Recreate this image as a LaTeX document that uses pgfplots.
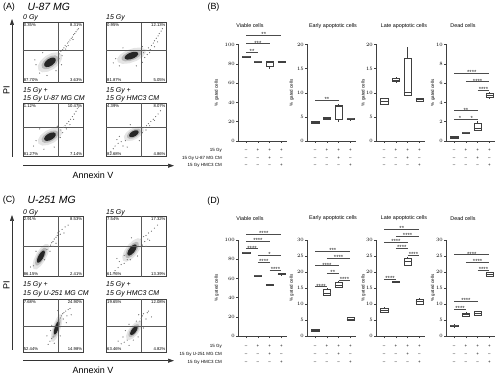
\documentclass[border=0pt]{standalone}
\usepackage{fontspec}
\setmainfont{Liberation Sans}
\usepackage{pgfplots}
\usepackage{pgfplotstable}
\pgfplotsset{compat=1.18}
\usepgfplotslibrary{statistics}
\usetikzlibrary{arrows.meta}

% unit ellipse shapes (outline of the dense cell cloud), 35, 45, 55 degrees
\pgfplotstableread{
x y
0.819 0.574
0.551 0.722
0.137 0.677
-0.316 0.450
-0.683 0.103
-0.867 -0.272
-0.819 -0.574
-0.551 -0.722
-0.137 -0.677
0.316 -0.450
0.683 -0.103
0.867 0.272
0.819 0.574
}\ellA
\pgfplotstableread{
x y
0.707 0.707
0.453 0.771
0.078 0.630
-0.318 0.318
-0.630 -0.078
-0.771 -0.453
-0.707 -0.707
-0.453 -0.771
-0.078 -0.630
0.318 -0.318
0.630 0.078
0.771 0.453
0.707 0.707
}\ellB
\pgfplotstableread{
x y
0.574 0.819
0.333 0.824
0.004 0.609
-0.328 0.230
-0.570 -0.211
-0.661 -0.594
-0.574 -0.819
-0.333 -0.824
-0.004 -0.609
0.328 -0.230
0.570 0.211
0.661 0.594
0.574 0.819
}\ellC

\newcommand{\blob}[6]{\addplot[draw=none, fill=#6, forget plot] table[x expr={#2+#4*\thisrow{x}}, y expr={#3+#5*\thisrow{y}}] {#1};}
\newcommand{\cloud}[5]{%
 \blob{#1}{#2}{#3}{2.1*#4}{2.1*#5}{gray!20}
 \blob{#1}{#2}{#3}{1.45*#4}{1.45*#5}{gray!55}
 \blob{#1}{#2}{#3}{#4}{#5}{black!85}}
\newcommand{\dotsc}[1]{\addplot[only marks, mark=*, mark size=0.32bp, black!55, forget plot] coordinates {#1};}
\newcommand{\gate}[2]{\addplot[black!65, line width=0.4bp, forget plot] coordinates {(#1,0) (#1,1)};
 \addplot[black!65, line width=0.4bp, forget plot] coordinates {(0,#2) (1,#2)};}
\newcommand{\pctfont}{\fontsize{4.2}{4.5}\selectfont}
\newcommand{\qlab}[4]{%
 \node[anchor=north west, inner sep=1bp, font=\pctfont] at (rel axis cs:0,1) {#1};
 \node[anchor=north east, inner sep=1bp, font=\pctfont] at (rel axis cs:1,1) {#2};
 \node[anchor=south west, inner sep=1bp, font=\pctfont] at (rel axis cs:0,0) {#3};
 \node[anchor=south east, inner sep=1bp, font=\pctfont] at (rel axis cs:1,0) {#4};}

\newcommand{\bx}[6]{\addplot[black!75, line width=0.35bp, fill=white, forget plot, boxplot/draw direction=y, boxplot prepared={draw position=#1, lower whisker=#2, lower quartile=#3, median=#4, upper quartile=#5, upper whisker=#6, box extend=0.62, whisker extend=0}] coordinates {};}
\newcommand{\starfont}{\fontsize{6}{6}\selectfont}
\newcommand{\sg}[4]{\addplot[black!70, line width=0.4bp, forget plot] coordinates {(#1,#3) (#2,#3)} node[pos=0.5, anchor=south, inner sep=0pt, yshift=-1.8bp, font=\starfont, text=black!85] {#4};}
\newcommand{\pmtab}[1]{%
 \node[pmrow=#1] at (axis cs:1,0) {\strut--\\\strut--\\\strut--};
 \node[pmrow=#1] at (axis cs:2,0) {\strut+\\\strut--\\\strut--};
 \node[pmrow=#1] at (axis cs:3,0) {\strut+\\\strut+\\\strut--};
 \node[pmrow=#1] at (axis cs:4,0) {\strut+\\\strut--\\\strut+};}

\tikzset{pmrow/.style={anchor=north, align=center, font=\fontsize{4.5}{#1}\selectfont, inner sep=0pt, yshift=-5.3bp}}
\pgfplotsset{
 fc/.style={scale only axis, width=60.6bp, xmin=0, xmax=1, ymin=0, ymax=1, ticks=none,
   axis line style={line width=0.4bp, black!75}, anchor=south west},
 bp/.style={scale only axis, width=48.6bp, height=96.5bp, xmin=0.3, xmax=4.45, ymin=0,
   anchor=south west, axis x line*=bottom, axis y line*=left,
   axis line style={line width=0.4bp, black!75, -},
   tick style={black!75, line width=0.4bp}, major tick length=2bp, tick align=outside,
   xtick={1,2,3,4}, xticklabels={},
   yticklabel style={font=\fontsize{5}{6}\selectfont, inner sep=1bp},
   ylabel={\% gated cells}, ylabel style={font=\fontsize{4.5}{5}\selectfont, anchor=center},
   clip=false},
}

\begin{document}
\begin{tikzpicture}
\path[use as bounding box] (0,0) rectangle (500bp,375bp);

% ================= (A) U-87 MG flow panels =================
\begin{axis}[fc, at={(22.7bp,292.3bp)}, height=60bp]
\cloud{\ellA}{0.45}{0.34}{0.11}{0.11}
\dotsc{(0.60,0.48) (0.63,0.52) (0.66,0.55) (0.68,0.58) (0.70,0.62) (0.72,0.60) (0.74,0.66) (0.76,0.68) (0.78,0.71) (0.80,0.74) (0.82,0.76) (0.84,0.80) (0.86,0.82) (0.88,0.85) (0.90,0.88) (0.92,0.90) (0.71,0.56) (0.65,0.45) (0.75,0.62) (0.83,0.72) (0.22,0.30) (0.28,0.16) (0.20,0.38) (0.55,0.20) (0.64,0.30) (0.40,0.12) (0.33,0.50) (0.60,0.40)}
\gate{0.585}{0.545}
\qlab{0.35\%}{8.31\%}{87.70\%}{3.63\%}
\end{axis}
\begin{axis}[fc, at={(106bp,292.3bp)}, height=60bp]
\cloud{\ellA}{0.42}{0.45}{0.13}{0.09}
\dotsc{(0.62,0.50) (0.66,0.54) (0.70,0.58) (0.73,0.55) (0.75,0.62) (0.78,0.66) (0.80,0.70) (0.83,0.74) (0.86,0.78) (0.88,0.82) (0.91,0.86) (0.93,0.90) (0.68,0.47) (0.64,0.42) (0.72,0.50) (0.80,0.60) (0.16,0.40) (0.22,0.28) (0.28,0.58) (0.50,0.28) (0.60,0.34) (0.12,0.33) (0.85,0.68) (0.60,0.60)}
\gate{0.585}{0.545}
\qlab{0.95\%}{12.13\%}{81.87\%}{5.05\%}
\end{axis}
\begin{axis}[fc, at={(22.7bp,218.3bp)}, height=53.4bp]
\cloud{\ellA}{0.45}{0.375}{0.11}{0.11}
\dotsc{(0.63,0.50) (0.67,0.55) (0.70,0.58) (0.73,0.62) (0.76,0.66) (0.79,0.70) (0.82,0.75) (0.85,0.80) (0.88,0.85) (0.90,0.90) (0.92,0.93) (0.66,0.45) (0.72,0.52) (0.78,0.60) (0.84,0.70) (0.62,0.36) (0.22,0.30) (0.18,0.20) (0.28,0.52) (0.52,0.18) (0.35,0.14) (0.57,0.57)}
\gate{0.585}{0.56}
\qlab{1.12\%}{10.47\%}{81.27\%}{7.14\%}
\end{axis}
\begin{axis}[fc, at={(106bp,218.3bp)}, height=53.4bp]
\cloud{\ellA}{0.46}{0.43}{0.09}{0.09}
\dotsc{(0.15,0.20) (0.20,0.25) (0.25,0.28) (0.18,0.32) (0.28,0.20) (0.12,0.15) (0.32,0.30) (0.22,0.38) (0.63,0.55) (0.67,0.58) (0.70,0.62) (0.74,0.66) (0.78,0.70) (0.82,0.75) (0.86,0.80) (0.90,0.86) (0.66,0.50) (0.72,0.58) (0.80,0.68) (0.60,0.45) (0.55,0.30) (0.40,0.60) (0.08,0.10) (0.35,0.18)}
\gate{0.585}{0.56}
\qlab{4.39\%}{8.07\%}{82.68\%}{4.86\%}
\end{axis}

% ================= (C) U-251 MG flow panels =================
\begin{axis}[fc, at={(22.7bp,98.3bp)}, height=60.7bp]
\cloud{\ellC}{0.30}{0.33}{0.10}{0.12}
\dotsc{(0.40,0.45) (0.43,0.50) (0.46,0.52) (0.48,0.56) (0.50,0.58) (0.52,0.62) (0.55,0.65) (0.57,0.68) (0.58,0.72) (0.60,0.75) (0.62,0.70) (0.65,0.78) (0.70,0.82) (0.75,0.85) (0.50,0.50) (0.45,0.42) (0.18,0.18) (0.13,0.16) (0.36,0.28) (0.22,0.42) (0.55,0.55) (0.68,0.72)}
\gate{0.585}{0.495}
\qlab{2.91\%}{8.53\%}{86.15\%}{2.41\%}
\end{axis}
\begin{axis}[fc, at={(106bp,98.3bp)}, height=60.7bp]
\cloud{\ellB}{0.43}{0.44}{0.10}{0.12}
\dotsc{(0.15,0.10) (0.20,0.15) (0.25,0.20) (0.30,0.22) (0.22,0.25) (0.35,0.28) (0.30,0.35) (0.58,0.62) (0.62,0.66) (0.66,0.68) (0.70,0.72) (0.64,0.58) (0.69,0.62) (0.75,0.75) (0.80,0.80) (0.60,0.52) (0.42,0.64) (0.52,0.34) (0.72,0.60) (0.40,0.28) (0.85,0.85) (0.18,0.30) (0.66,0.50) (0.12,0.06)}
\gate{0.585}{0.495}
\qlab{7.54\%}{17.32\%}{61.76\%}{13.39\%}
\end{axis}
\begin{axis}[fc, at={(22.7bp,23.3bp)}, height=52.7bp]
\cloud{\ellC}{0.56}{0.45}{0.07}{0.15}
\dotsc{(0.45,0.20) (0.48,0.25) (0.50,0.28) (0.52,0.16) (0.42,0.14) (0.62,0.64) (0.64,0.68) (0.66,0.72) (0.68,0.74) (0.71,0.77) (0.67,0.62) (0.73,0.68) (0.75,0.80) (0.78,0.82) (0.48,0.50) (0.46,0.40) (0.72,0.55) (0.62,0.30) (0.40,0.30) (0.80,0.70) (0.58,0.78)}
\gate{0.585}{0.475}
\qlab{7.68\%}{24.90\%}{52.44\%}{14.98\%}
\end{axis}
\begin{axis}[fc, at={(106bp,23.3bp)}, height=52.7bp]
\cloud{\ellB}{0.46}{0.40}{0.08}{0.11}
\dotsc{(0.25,0.15) (0.30,0.18) (0.35,0.22) (0.28,0.28) (0.20,0.20) (0.38,0.12) (0.56,0.58) (0.58,0.63) (0.60,0.68) (0.62,0.72) (0.66,0.62) (0.54,0.70) (0.68,0.74) (0.70,0.77) (0.50,0.58) (0.38,0.52) (0.32,0.40) (0.62,0.45) (0.75,0.66) (0.45,0.22) (0.53,0.28)}
\gate{0.585}{0.475}
\qlab{19.65\%}{12.08\%}{63.46\%}{4.82\%}
\end{axis}

% ================= (B) U-87 MG box plots =================
\begin{axis}[bp, at={(238bp,234bp)}, ymax=100, ytick={0,20,40,60,80,100},
  ylabel style={at={(axis description cs:-0.44,0.5)}}]
\bx{1}{86.6}{86.8}{87.2}{87.6}{87.8}
\bx{2}{81.4}{81.6}{82.0}{82.3}{82.5}
\bx{3}{74.8}{77.6}{81.8}{82.8}{83.2}
\bx{4}{81.9}{82.0}{82.3}{82.6}{82.7}
\sg{1}{2}{92}{**}
\sg{1}{3}{101}{***}
\sg{1}{4}{109.7}{**}
\pmtab{7.5}
\node[pmrow=7.5, anchor=north east, align=right, xshift=-16bp] at (axis cs:0.3,0) {\strut15 Gy\\\strut15 Gy U-87 MG CM\\\strut15 Gy HMC3 CM};
\end{axis}
\begin{axis}[bp, at={(307bp,234bp)}, ymax=20, ytick={0,5,10,15,20},
  ylabel style={at={(axis description cs:-0.315,0.5)}}]
\bx{1}{3.7}{3.75}{3.9}{4.05}{4.1}
\bx{2}{4.45}{4.55}{4.7}{4.85}{4.95}
\bx{3}{4.0}{4.6}{7.2}{7.5}{7.7}
\bx{4}{4.4}{4.45}{4.6}{4.75}{4.8}
\sg{1}{3}{8.5}{**}
\pmtab{7.5}
\end{axis}
\begin{axis}[bp, at={(376bp,234bp)}, ymax=20, ytick={0,5,10,15,20},
  ylabel style={at={(axis description cs:-0.26,0.5)}}]
\bx{1}{7.4}{7.6}{8.2}{8.8}{9.0}
\bx{2}{12.2}{12.3}{12.6}{13.0}{13.2}
\bx{3}{9.3}{9.5}{10.2}{17.2}{19.5}
\bx{4}{8.2}{8.3}{8.6}{8.9}{9.0}
\pmtab{7.5}
\end{axis}
\begin{axis}[bp, at={(446bp,234bp)}, ymax=10, ytick={0,2,4,6,8,10},
  ylabel style={at={(axis description cs:-0.27,0.5)}}]
\bx{1}{0.25}{0.28}{0.35}{0.45}{0.48}
\bx{2}{0.78}{0.80}{0.85}{0.90}{0.92}
\bx{3}{1.1}{1.15}{1.3}{1.85}{2.1}
\bx{4}{4.45}{4.5}{4.8}{5.0}{5.05}
\sg{1}{2}{2.3}{*}
\sg{2}{3}{2.3}{*}
\sg{1}{3}{3.15}{**}
\sg{3}{4}{5.3}{****}
\sg{2}{4}{6.15}{****}
\sg{1}{4}{7.05}{****}
\pmtab{7.5}
\end{axis}

% ================= (D) U-251 MG box plots =================
\begin{axis}[bp, at={(238bp,38.7bp)}, ymax=100, ytick={0,20,40,60,80,100},
  ylabel style={at={(axis description cs:-0.44,0.5)}}]
\bx{1}{85.7}{86.0}{86.5}{87.0}{87.3}
\bx{2}{61.9}{62.1}{62.5}{62.9}{63.1}
\bx{3}{52.8}{53.0}{53.5}{54.2}{54.4}
\bx{4}{63.8}{64.0}{64.5}{65.2}{65.4}
\sg{1}{4}{106}{****}
\sg{1}{3}{99}{****}
\sg{1}{2}{91}{****}
\sg{2}{4}{84.2}{*}
\sg{2}{3}{76.6}{****}
\sg{3}{4}{69}{****}
\pmtab{8}
\node[pmrow=8, anchor=north east, align=right, xshift=-16bp] at (axis cs:0.3,0) {\strut15 Gy\\\strut15 Gy U-251 MG CM\\\strut15 Gy HMC3 CM};
\end{axis}
\begin{axis}[bp, at={(307bp,38.7bp)}, ymax=30, ytick={0,5,10,15,20,25,30},
  ylabel style={at={(axis description cs:-0.315,0.5)}}]
\bx{1}{1.6}{1.7}{1.9}{2.1}{2.2}
\bx{2}{12.6}{12.9}{13.5}{14.6}{14.9}
\bx{3}{15.1}{15.3}{16.0}{16.9}{17.1}
\bx{4}{4.9}{5.0}{5.4}{5.8}{5.9}
\sg{1}{4}{26.6}{***}
\sg{2}{4}{24.3}{****}
\sg{1}{3}{22}{****}
\sg{2}{3}{19.6}{**}
\sg{3}{4}{17.5}{****}
\sg{1}{2}{15.5}{****}
\pmtab{8}
\end{axis}
\begin{axis}[bp, at={(376bp,38.7bp)}, ymax=30, ytick={0,5,10,15,20,25,30},
  ylabel style={at={(axis description cs:-0.26,0.5)}}]
\bx{1}{7.4}{7.6}{8.2}{8.8}{9.0}
\bx{2}{16.7}{16.8}{17.0}{17.2}{17.3}
\bx{3}{22.0}{22.2}{23.3}{24.2}{24.8}
\bx{4}{9.6}{10.0}{10.8}{11.5}{12.0}
\sg{1}{4}{33.3}{**}
\sg{2}{4}{31.2}{****}
\sg{1}{3}{29.3}{****}
\sg{2}{3}{27.4}{****}
\sg{3}{4}{25.3}{****}
\sg{1}{2}{17.9}{****}
\pmtab{8}
\end{axis}
\begin{axis}[bp, at={(446bp,38.7bp)}, ymax=30, ytick={0,5,10,15,20,25,30},
  ylabel style={at={(axis description cs:-0.27,0.5)}}]
\bx{1}{2.9}{3.0}{3.3}{3.6}{3.7}
\bx{2}{6.1}{6.3}{6.8}{7.3}{7.4}
\bx{3}{6.4}{6.6}{7.2}{7.8}{8.0}
\bx{4}{18.5}{18.7}{19.2}{19.8}{20.0}
\sg{1}{4}{25.4}{****}
\sg{2}{4}{23.0}{****}
\sg{3}{4}{20.7}{****}
\sg{1}{3}{11.0}{****}
\sg{1}{2}{8.4}{****}
\pmtab{8}
\end{axis}

% ================= labels, arrows =================
\node[font=\fontsize{9}{9}\selectfont] at (9bp,368bp) {(A)};
\node[anchor=west, font=\fontsize{10.5}{10.5}\selectfont\itshape] at (24bp,368.5bp) {U-87 MG};
\node[font=\fontsize{9}{9}\selectfont] at (213.5bp,368bp) {(B)};
\node[font=\fontsize{9}{9}\selectfont] at (9bp,175bp) {(C)};
\node[anchor=west, font=\fontsize{10.5}{10.5}\selectfont\itshape] at (24bp,175.5bp) {U-251 MG};
\node[font=\fontsize{9}{9}\selectfont] at (213.5bp,174bp) {(D)};

\begin{scope}[every node/.style={anchor=base west, inner sep=0pt, font=\fontsize{7}{7}\selectfont\itshape}]
\node at (23bp,355.5bp) {0 Gy};
\node at (106bp,355.5bp) {15 Gy};
\node at (23bp,282.5bp) {15 Gy +};
\node at (23bp,274.5bp) {15 Gy U-87 MG CM};
\node at (106bp,282.5bp) {15 Gy +};
\node at (106bp,274.5bp) {15 Gy HMC3 CM};
\node at (23bp,160.5bp) {0 Gy};
\node at (106bp,160.5bp) {15 Gy};
\node at (23bp,88.5bp) {15 Gy +};
\node at (23bp,79.5bp) {15 Gy U-251 MG CM};
\node at (106bp,88.5bp) {15 Gy +};
\node at (106bp,79.5bp) {15 Gy HMC3 CM};
\end{scope}

\draw[line width=0.6bp, black!80, -{Triangle[length=6bp, width=4bp]}] (23bp,209.3bp) -- (174bp,209.3bp);
\node[font=\fontsize{9}{9}\selectfont] at (93bp,200bp) {Annexin V};
\draw[line width=0.6bp, black!80, -{Triangle[length=6bp, width=4bp]}] (12bp,218bp) -- (12bp,356bp);
\node[rotate=90, font=\fontsize{9}{9}\selectfont] at (6.5bp,285bp) {PI};

\draw[line width=0.6bp, black!80, -{Triangle[length=6bp, width=4bp]}] (23bp,14.3bp) -- (174bp,14.3bp);
\node[font=\fontsize{9}{9}\selectfont] at (93bp,5bp) {Annexin V};
\draw[line width=0.6bp, black!80, -{Triangle[length=6bp, width=4bp]}] (12bp,25bp) -- (12bp,160bp);
\node[rotate=90, font=\fontsize{9}{9}\selectfont] at (6.5bp,90bp) {PI};

\begin{scope}[every node/.style={font=\fontsize{5.4}{6}\selectfont}]
\node at (250bp,349bp) {Viable cells};
\node at (333bp,349bp) {Early apoptotic cells};
\node at (404bp,349bp) {Late apoptotic cells};
\node at (463bp,349bp) {Dead cells};
\node at (250bp,156.5bp) {Viable cells};
\node at (333bp,156.5bp) {Early apoptotic cells};
\node at (404bp,156.5bp) {Late apoptotic cells};
\node at (463bp,156.5bp) {Dead cells};
\end{scope}
\end{tikzpicture}
\end{document}
